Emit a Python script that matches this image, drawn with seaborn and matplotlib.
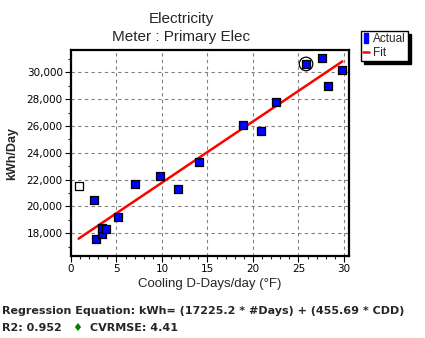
import matplotlib
matplotlib.use("Agg")
import matplotlib.pyplot as plt
import seaborn as sns
import pandas as pd
from matplotlib.lines import Line2D
from matplotlib.ticker import MultipleLocator, FuncFormatter

# ---- data ----
cdd_actual = [2.52, 2.70, 3.36, 3.36, 3.80, 5.12, 6.98, 9.73, 11.81, 14.12,
              18.95, 20.93, 22.57, 25.83, 27.62, 28.28, 29.82]
kwh_actual = [20450, 17550, 17920, 18420, 18300, 19190, 21650, 22250, 21280, 23290,
              26050, 25600, 27760, 30620, 31040, 28950, 30150]
cdd_excluded = [0.83]
kwh_excluded = [21500]
cdd_highlight = [25.83]
kwh_highlight = [30620]
fit_x = [0.83, 29.82]
fit_y = [17600, 30810]

title_lines = ["Electricity", "Meter : Primary Elec"]
x_label = "Cooling D-Days/day (°F)"
y_label = "kWh/Day"
equation = "Regression Equation: kWh= (17225.2 * #Days) + (455.69 * CDD)"
r2_text = "R2: 0.952"
cv_text = "CVRMSE: 4.41"

sns.set_style("white")
plt.rcParams['font.family'] = ['Liberation Sans', 'DejaVu Sans']

W, H = 425, 338
fig = plt.figure(figsize=(W / 100, H / 100), dpi=100)
ax = fig.add_axes([71 / W, 1 - 256 / H, 278 / W, 206 / H])

df_act = pd.DataFrame({"x": cdd_actual, "y": kwh_actual})
df_exc = pd.DataFrame({"x": cdd_excluded, "y": kwh_excluded})
df_hi = pd.DataFrame({"x": cdd_highlight, "y": kwh_highlight})
df_fit = pd.DataFrame({"x": fit_x, "y": fit_y})

sns.lineplot(data=df_fit, x="x", y="y", ax=ax, color="#ff0000", lw=1.8, zorder=3)
sns.scatterplot(data=df_act, x="x", y="y", ax=ax, marker="s", s=34,
                color="#0000ff", edgecolor="black", linewidth=0.9, zorder=4)
sns.scatterplot(data=df_exc, x="x", y="y", ax=ax, marker="s", s=34,
                color="white", edgecolor="black", linewidth=0.9, zorder=4)
sns.scatterplot(data=df_hi, x="x", y="y", ax=ax, marker="o", s=95,
                facecolor="none", edgecolor="black", linewidth=0.9, zorder=5)

ax.set_xlim(0, 30.55)
ax.set_ylim(16310, 31660)
ax.xaxis.set_major_locator(MultipleLocator(5))
ax.xaxis.set_minor_locator(MultipleLocator(1))
ax.yaxis.set_major_locator(MultipleLocator(2000))
ax.yaxis.set_minor_locator(MultipleLocator(1000))
ax.yaxis.set_major_formatter(FuncFormatter(lambda v, p: f"{int(v):,}"))
ax.grid(True, which="major", linestyle=(0, (3, 3)), color="#808080", lw=0.8)
for s in ax.spines.values():
    s.set_visible(True)
    s.set_color("black")
    s.set_linewidth(1.6)
ax.tick_params(axis="both", which="major", direction="out", length=4, width=0.8,
               labelsize=8, colors="black", pad=2, left=True, bottom=True)
ax.tick_params(axis="both", which="minor", direction="out", length=2.5, width=0.8,
               left=True, bottom=True)
for lab in ax.get_xticklabels() + ax.get_yticklabels():
    lab.set_family(['DejaVu Sans'])
    lab.set_fontsize(7.5)

ax.set_xlabel(x_label, fontsize=9.5, labelpad=3)
ax.set_ylabel(y_label, fontsize=9, fontweight="bold", labelpad=6)

fig.text(181 / W, 1 - 19 / H, title_lines[0], ha="center", va="center", fontsize=11)
fig.text(181 / W, 1 - 37 / H, title_lines[1], ha="center", va="center", fontsize=11)

rect_marker = [(-0.35, -1), (0.35, -1), (0.35, 1), (-0.35, 1), (-0.35, -1)]
handles = [
    Line2D([], [], marker=rect_marker, linestyle="none", markersize=7,
           markerfacecolor="#0000ff", markeredgecolor="#0000ff", label="Actual"),
    Line2D([], [], color="#ff0000", lw=1.8, label="Fit"),
]
leg = fig.legend(handles=handles, loc="upper left",
                 bbox_to_anchor=(361 / W, 1 - 31 / H), frameon=True, fancybox=False,
                 shadow={"color": "black", "alpha": 1}, fontsize=8.5,
                 handlelength=0.5, handletextpad=0.3, borderpad=0.2,
                 labelspacing=0.15, borderaxespad=0)
leg.get_frame().set_edgecolor("black")
leg.get_frame().set_linewidth(1.0)

fig.text(2 / W, 1 - 311 / H, equation, ha="left", va="center", fontsize=8,
         fontweight="bold", family=['DejaVu Sans'])
fig.text(2 / W, 1 - 328 / H, r2_text, ha="left", va="center", fontsize=8,
         fontweight="bold", family=['DejaVu Sans'])
fig.text(77 / W, 1 - 328 / H, "\u2666", ha="center", va="center", fontsize=8,
         color="#008000", family=['DejaVu Sans'])
fig.text(90 / W, 1 - 328 / H, cv_text, ha="left", va="center", fontsize=8,
         fontweight="bold", family=['DejaVu Sans'])

fig.savefig("out.png", dpi=100)
